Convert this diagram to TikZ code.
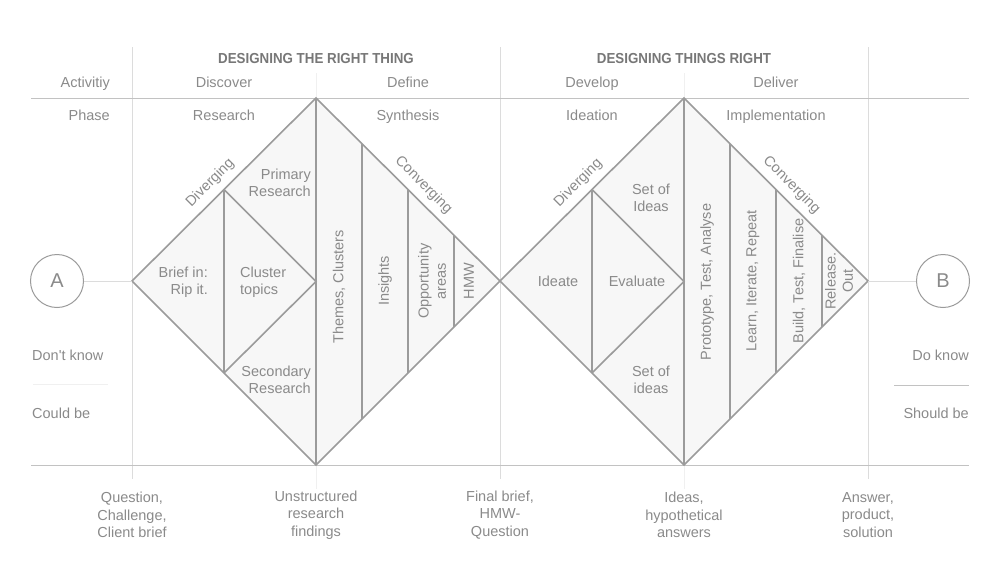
\documentclass[tikz,border=0pt]{standalone}
\usepackage{fontspec}
\setmainfont{Liberation Sans}
\newfontfamily\headfont[FakeStretch=0.92]{Liberation Sans}
\usetikzlibrary{positioning, calc}

\definecolor{inkgrey}{HTML}{8A8A8A}
\definecolor{headgrey}{HTML}{777777}
\definecolor{edgegrey}{HTML}{9B9B9B}
\definecolor{rulegrey}{HTML}{C2C2C2}
\definecolor{gridgrey}{HTML}{DCDCDC}
\definecolor{palegrey}{HTML}{F0F0F0}
\definecolor{fillgrey}{HTML}{F7F7F7}

\begin{document}
\begin{tikzpicture}[
    x=1pt, y=-1pt,
    txt/.style={text=inkgrey, font=\fontsize{14.5}{17.3}\selectfont, inner sep=0pt},
    head/.style={text=headgrey, font=\headfont\bfseries\fontsize{14.5}{17}\selectfont, inner sep=0pt, anchor=base},
    side/.style={txt, rotate=90, align=center},
    cell/.style={draw=edgegrey, line width=1.6pt, line join=miter},
    grid/.style={draw=gridgrey, line width=1pt},
    rule/.style={draw=rulegrey, line width=1pt},
    pole/.style={circle, draw=edgegrey, line width=1pt, minimum size=53pt, inner sep=0pt, text=inkgrey, font=\fontsize{20}{20}\selectfont}
]
\useasboundingbox (0,0) rectangle (1000,562);

% Corners of the two diamonds
\coordinate (l1) at (132,281);
\coordinate (t1) at (316,98);
\coordinate (r1) at (500,281);
\coordinate (b1) at (316,465);
\coordinate (l2) at (500,281);
\coordinate (t2) at (684,98);
\coordinate (r2) at (868,281);
\coordinate (b2) at (684,465);

% Grid
\draw[grid] (132,47) -- (132,479);
\draw[grid] (500,47) -- (500,479);
\draw[grid] (868,47) -- (868,479);
\draw[draw=palegrey, line width=1pt] (316,73) -- (316,98) (316,465) -- (316,489);
\draw[draw=palegrey, line width=1pt] (684,73) -- (684,98) (684,465) -- (684,489);
\draw[rule] (31,98) -- (969,98);
\draw[rule] (31,465) -- (969,465);
\draw[draw=palegrey, line width=1pt] (33,384) -- (108,384);
\draw[rule] (894,385) -- (969,385);

% Diamonds
\foreach \i in {1,2} {
  \fill[fillgrey] (l\i) -- (t\i) -- (r\i) -- (b\i) -- cycle;
  \draw[cell] ($(l\i)!0.5!(t\i)$) -- ($(l\i)!0.5!(b\i)$);
  \draw[cell] ($(l\i)!0.5!(t\i)$) -- ($(t\i)!0.5!(b\i)$) -- ($(l\i)!0.5!(b\i)$);
  \draw[cell] (t\i) -- (b\i);
  \foreach \f in {0.25,0.5,0.75}
    \draw[cell] ($(t\i)!\f!(r\i)$) -- ($(b\i)!\f!(r\i)$);
  \draw[cell] (l\i) -- (t\i) -- (r\i) -- (b\i) -- cycle;
}

% Start and end
\node[pole] (a) at (57,281) {A};
\node[pole] (b) at (943,281) {B};
\draw[grid] (a) -- (l1);
\draw[grid] (r2) -- (b);

% Headings
\node[head] (right) at (316,63) {DESIGNING THE RIGHT THING};
\node[head] (things) at (684,63) {DESIGNING THINGS RIGHT};
\node[txt, anchor=base east] (activity) at (110,87) {Activitiy};
\node[txt, anchor=base east] (phase) at (110,120) {Phase};
\node[txt, anchor=base] (discover) at (224,87) {Discover};
\node[txt, anchor=base] (define) at (408,87) {Define};
\node[txt, anchor=base] (develop) at (592,87) {Develop};
\node[txt, anchor=base] (deliver) at (776,87) {Deliver};
\node[txt, anchor=base] (research) at (224,120) {Research};
\node[txt, anchor=base] (synthesis) at (408,120) {Synthesis};
\node[txt, anchor=base] (ideation) at (592,120) {Ideation};
\node[txt, anchor=base] (implement) at (776,120) {Implementation};

% Along the edges
\node[txt, rotate=45] (div1) at ($(l1)!0.48!(t1) + (-10,-10)$) {Diverging};
\node[txt, rotate=-45] (conv1) at ($(t1)!0.53!(r1) + (10,-10)$) {Converging};
\node[txt, rotate=45] (div2) at ($(l2)!0.48!(t2) + (-10,-10)$) {Diverging};
\node[txt, rotate=-45] (conv2) at ($(t2)!0.53!(r2) + (10,-10)$) {Converging};

% Inside the first diamond
\node[txt, align=right, anchor=east] (primary) at (311,183) {Primary\\Research};
\node[txt, align=right, anchor=east] (secondary) at (311,380) {Secondary\\Research};
\node[txt, align=right, anchor=east] (brief) at (208,282) {Brief in:\\Rip it.};
\node[txt, align=left, anchor=west] (cluster) at (240,282) {Cluster\\topics};
\node[side] (themes) at (339,287) {Themes, Clusters};
\node[side] (insights) at (385,281) {Insights};
\node[side] (areas) at (432,281) {Opportunity\\areas};
\node[side] (hmw) at (469,281) {HMW};

% Inside the second diamond
\node[txt] (ideate) at (558,281) {Ideate};
\node[txt] (evaluate) at (637,281) {Evaluate};
\node[txt, align=center] (ideasup) at (651,198) {Set of\\Ideas};
\node[txt, align=center] (ideasdown) at (651,380) {Set of\\ideas};
\node[side] (prototype) at (707,282) {Prototype, Test, Analyse};
\node[side] (learn) at (753,281) {Learn, Iterate, Repeat};
\node[side] (build) at (799,281) {Build, Test, Finalise};
\node[side] (release) at (839,281) {Release.\\Out};

% Knowing
\node[txt, anchor=base west] (dontknow) at (32,360) {Don\textquotesingle t know};
\node[txt, anchor=base west] (couldbe) at (32,418) {Could be};
\node[txt, anchor=base east] (doknow) at (969,360) {Do know};
\node[txt, anchor=base east] (shouldbe) at (969,418) {Should be};

% Outcomes
\node[txt, align=center] (question) at (132,515) {Question,\\Challenge,\\Client brief};
\node[txt, align=center] (findings) at (316,515) {Unstructured\\research\\findings};
\node[txt, align=center] (final) at (500,515) {Final brief,\\HMW-\\Question};
\node[txt, align=center] (ideas) at (684,515) {Ideas,\\hypothetical\\answers};
\node[txt, align=center] (answer) at (868,515) {Answer,\\product,\\solution};

\end{tikzpicture}
\end{document}
